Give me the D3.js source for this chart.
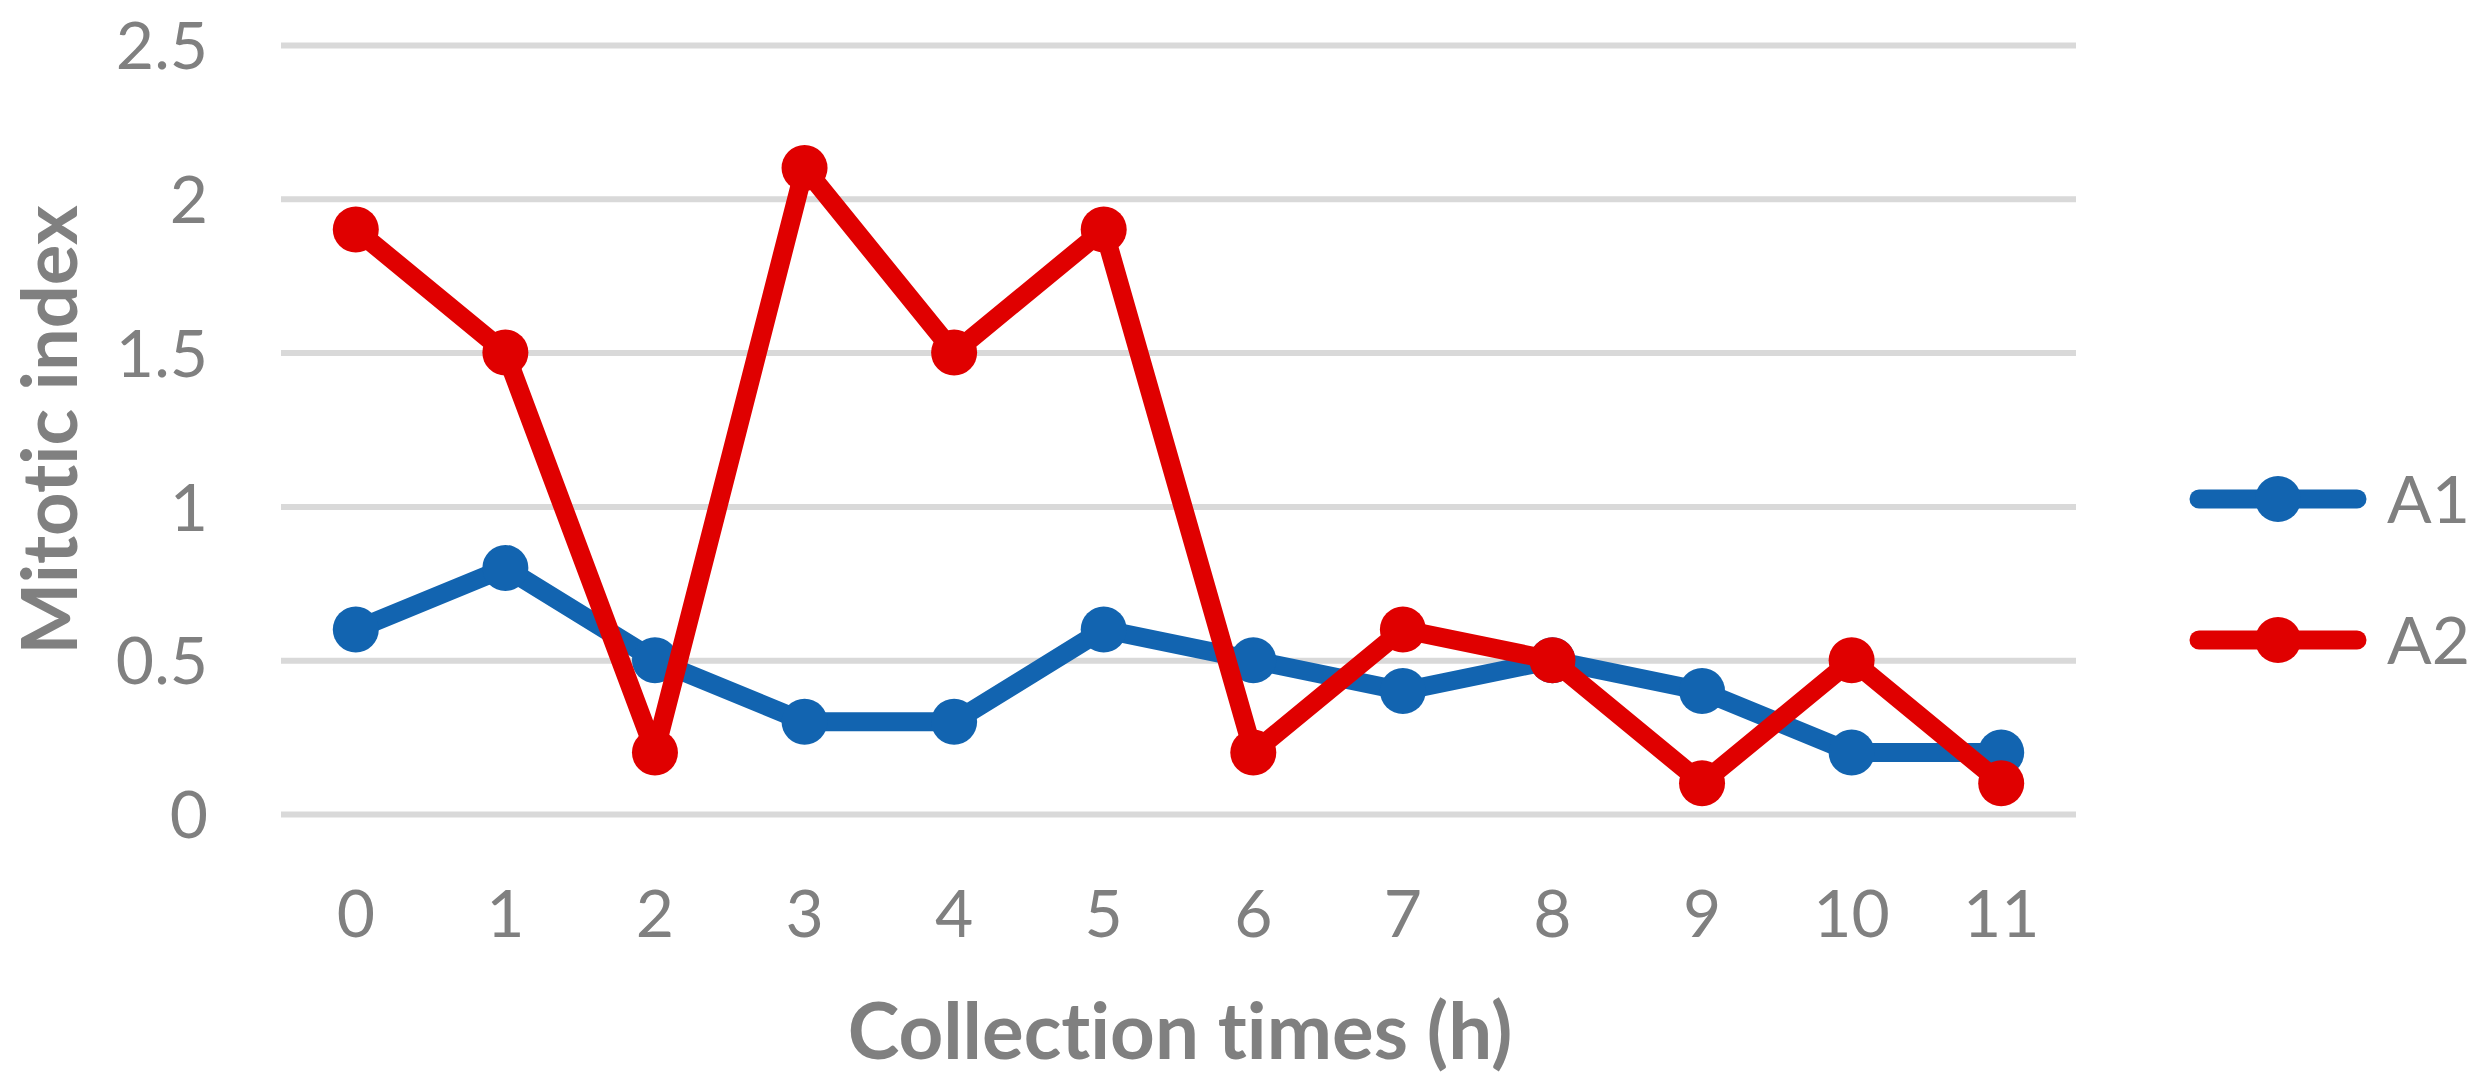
<!DOCTYPE html>
<html>
<head>
<meta charset="utf-8">
<script src="https://cdn.jsdelivr.net/npm/d3@7"></script>
<style>
  body { margin: 0; background: #fff; }
  svg { display: block; font-family: Lato, "Open Sans", sans-serif; font-variant-ligatures: none; }
  text { font-variant-ligatures: none; font-feature-settings: "liga" 0, "clig" 0; }
</style>
</head>
<body>
<script>
// chart data
var hours = ["0", "1", "2", "3", "4", "5", "6", "7", "8", "9", "10", "11"];
var a1 = [0.6, 0.8, 0.5, 0.3, 0.3, 0.6, 0.5, 0.4, 0.5, 0.4, 0.2, 0.2];
var a2 = [1.9, 1.5, 0.2, 2.1, 1.5, 1.9, 0.2, 0.6, 0.5, 0.1, 0.5, 0.1];
var seriesNames = ["A1", "A2"];
var seriesColors = ["#1264B0", "#E00000"];
var yTicks = [0, 0.5, 1, 1.5, 2, 2.5];

// set the dimensions and margins of the graph
var margin = {top: 45, right: 409, bottom: 275, left: 281},
    width = 2485 - margin.left - margin.right,
    height = 1089 - margin.top - margin.bottom;

var x = d3.scaleBand().domain(hours).range([0, width]).padding(0);
var y = d3.scaleLinear().domain([0, 2.5]).range([height, 0]);

var svg = d3.select("body").append("svg")
    .attr("width", width + margin.left + margin.right)
    .attr("height", height + margin.top + margin.bottom)
  .append("g")
    .attr("transform", "translate(" + margin.left + "," + margin.top + ")");

// gridlines
var grid = svg.append("g")
    .call(d3.axisLeft(y).tickValues(yTicks).tickSize(-width).tickFormat(""));
grid.select(".domain").remove();
grid.selectAll("line").attr("stroke", "#D9D9D9").attr("stroke-width", 6);

// y axis labels
var yAxis = svg.append("g")
    .call(d3.axisLeft(y).tickValues(yTicks).tickSize(0).tickPadding(73)
      .tickFormat(function(d) { return d; }))
    .attr("font-family", "Lato, 'Open Sans', sans-serif");
yAxis.select(".domain").remove();
yAxis.selectAll("text")
    .attr("fill", "#808080")
    .style("font-size", "66px")
    .attr("dy", "0.36em");

// x axis labels
var xAxis = svg.append("g")
    .attr("transform", "translate(0," + height + ")")
    .call(d3.axisBottom(x).tickSize(0))
    .attr("font-family", "Lato, 'Open Sans', sans-serif");
xAxis.select(".domain").remove();
xAxis.selectAll("text")
    .attr("fill", "#808080")
    .style("font-size", "66px")
    .attr("y", 99)
    .attr("dy", "0.36em");

// lines + markers
var line = d3.line()
    .x(function(d, i) { return x(hours[i]) + x.bandwidth() / 2; })
    .y(function(d) { return y(d); });

[a1, a2].forEach(function(vals, s) {
  svg.append("path")
      .datum(vals)
      .attr("d", line)
      .attr("fill", "none")
      .attr("stroke", seriesColors[s])
      .attr("stroke-width", 19)
      .attr("stroke-linejoin", "round");

  svg.selectAll(".dot" + s)
      .data(vals)
    .enter().append("circle")
      .attr("r", 23)
      .attr("cx", function(d, i) { return x(hours[i]) + x.bandwidth() / 2; })
      .attr("cy", function(d) { return y(d); })
      .attr("fill", seriesColors[s]);
});

// legend
var legend = svg.append("g")
    .attr("transform", "translate(" + (width + 123) + ",0)");
seriesNames.forEach(function(name, s) {
  var ly = 454 + s * 141;
  legend.append("line")
      .attr("x1", 0).attr("x2", 158)
      .attr("y1", ly).attr("y2", ly)
      .attr("stroke", seriesColors[s])
      .attr("stroke-width", 19)
      .attr("stroke-linecap", "round");
  legend.append("circle")
      .attr("cx", 79).attr("cy", ly).attr("r", 23)
      .attr("fill", seriesColors[s]);
  legend.append("text")
      .attr("x", 188).attr("y", ly)
      .attr("dy", "0.36em")
      .attr("fill", "#808080")
      .style("font-size", "66px")
      .text(name);
});

// axis titles
svg.append("text")
    .attr("transform", "rotate(-90)")
    .attr("x", 0 - 385)
    .attr("y", 77 - margin.left)
    .style("text-anchor", "middle")
    .style("font-size", "76px")
    .style("font-weight", "bold")
    .attr("fill", "#808080")
    .text("Mitotic index");

svg.append("text")
    .attr("transform", "translate(" + (1180 - margin.left) + "," + (1059 - margin.top) + ")")
    .style("text-anchor", "middle")
    .style("font-size", "78px")
    .style("font-weight", "bold")
    .attr("fill", "#808080")
    .text("Collection times (h)");
</script>
</body>
</html>
